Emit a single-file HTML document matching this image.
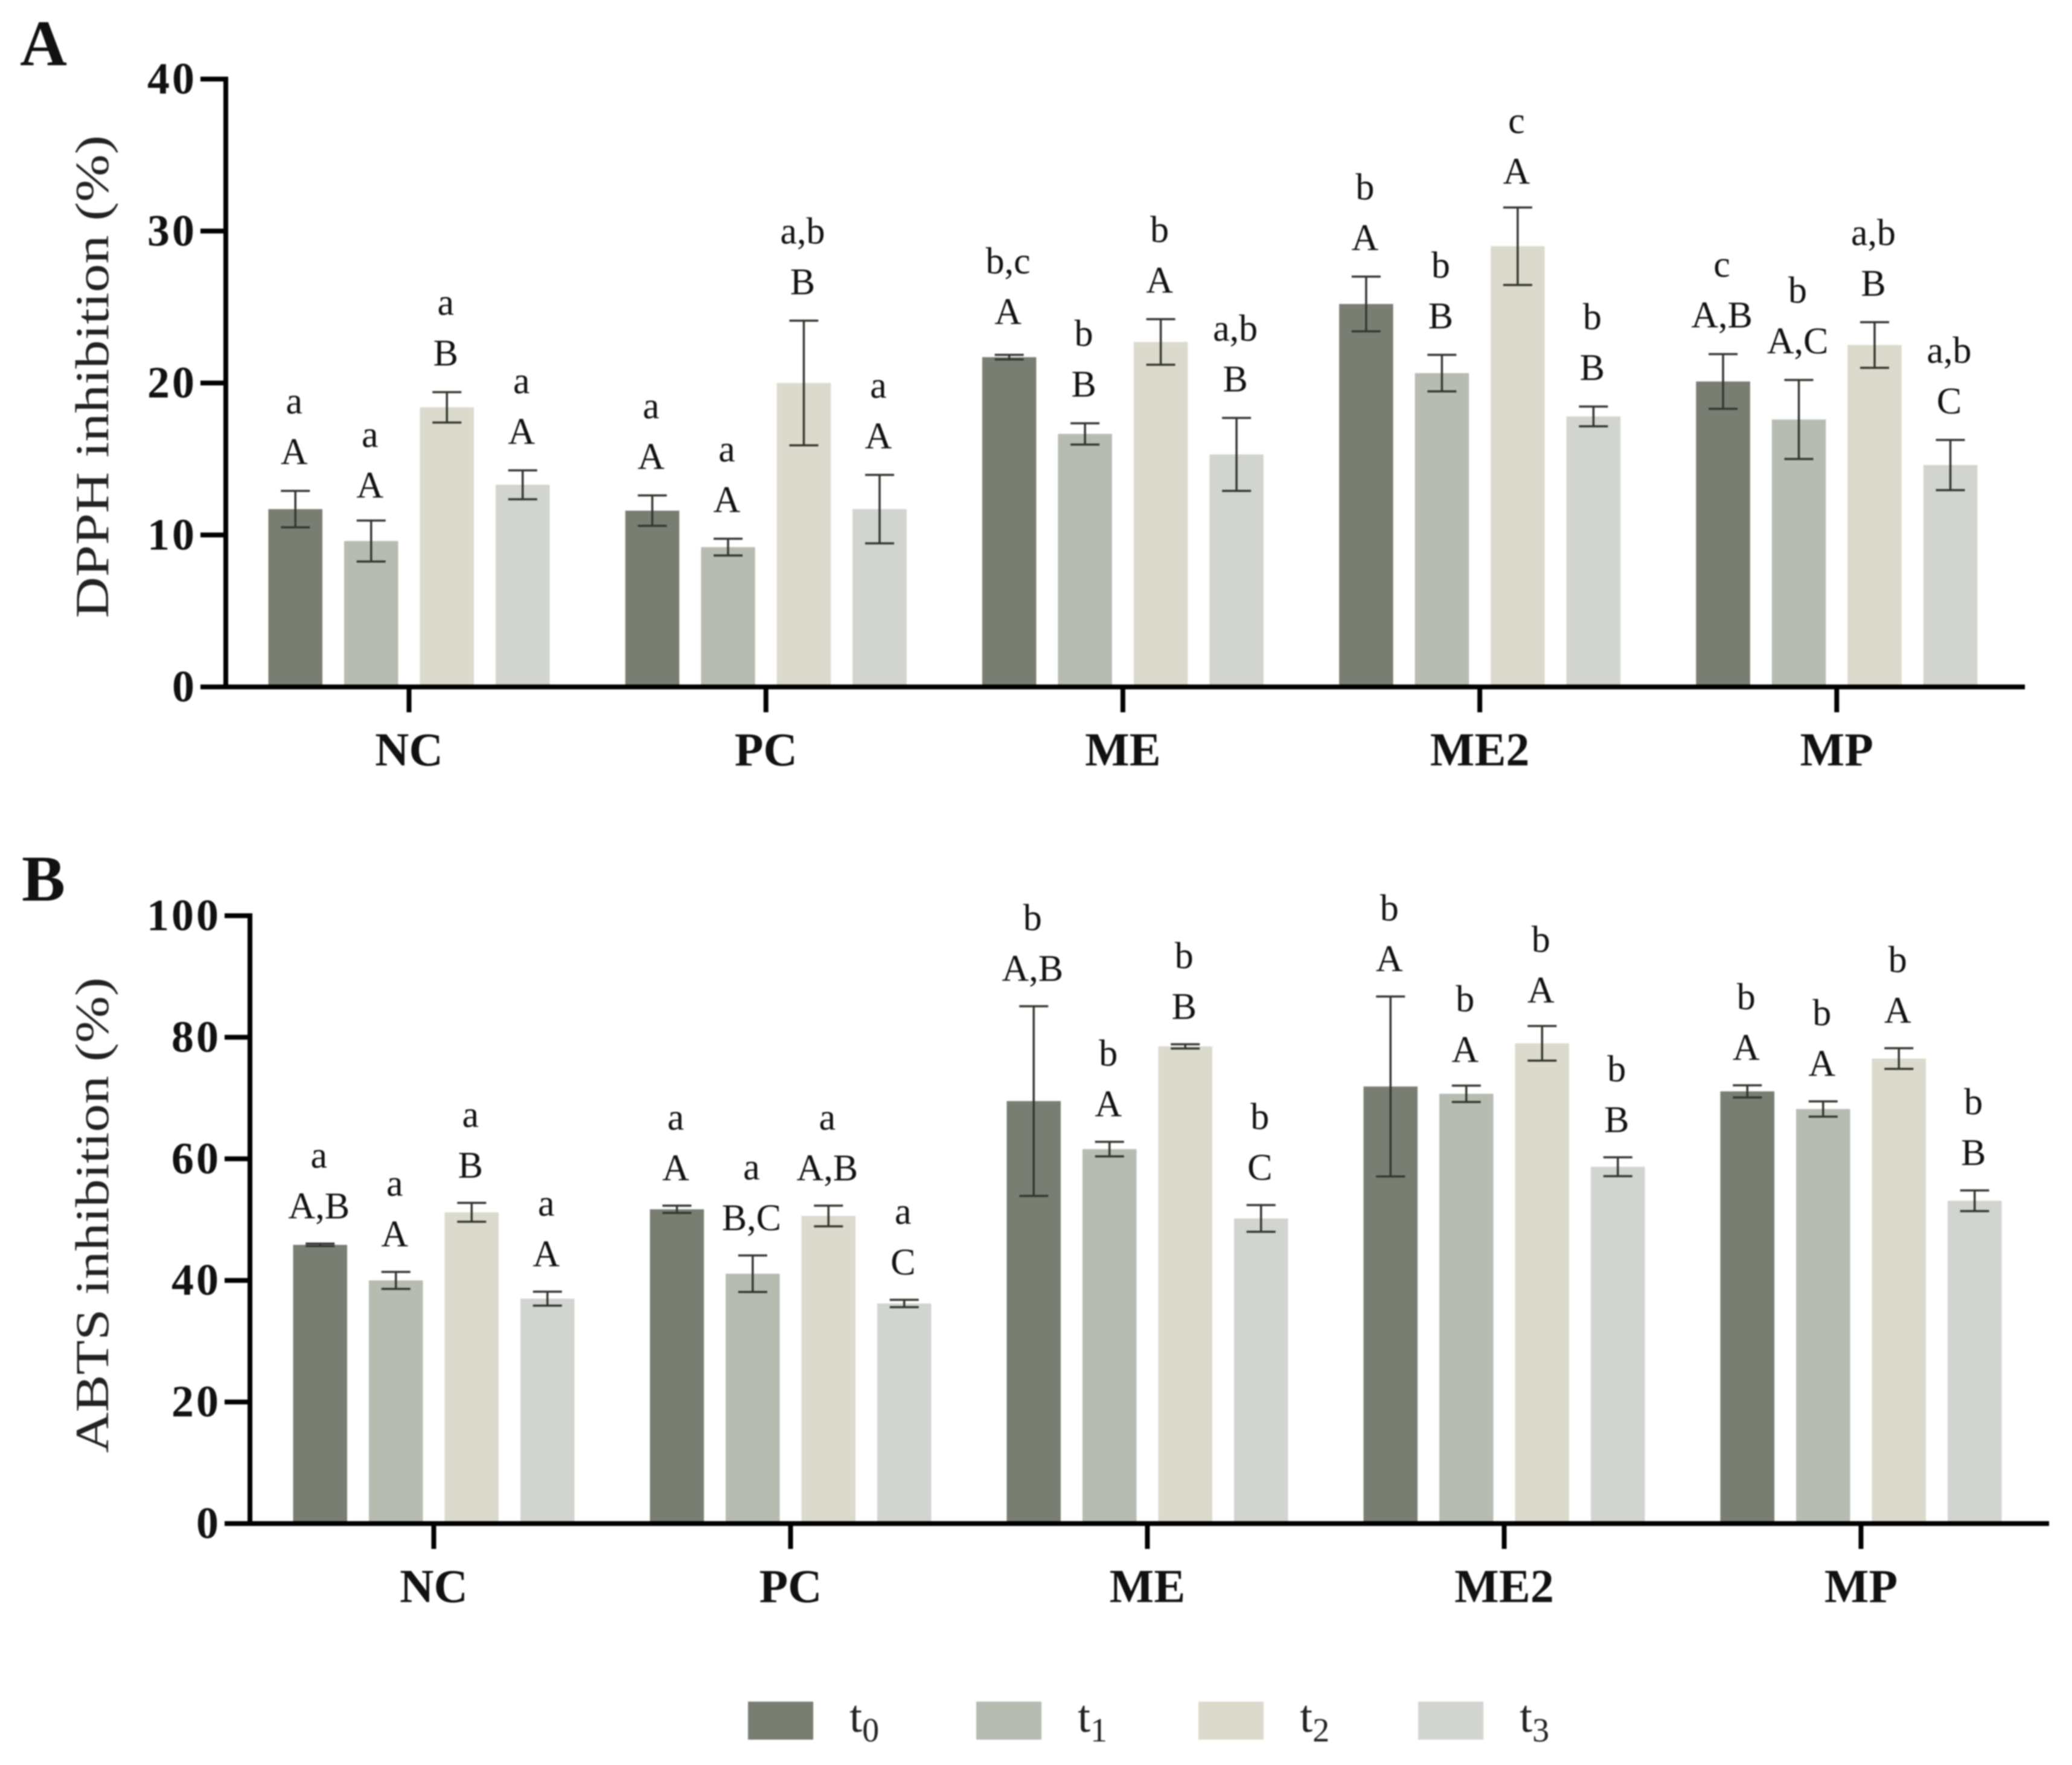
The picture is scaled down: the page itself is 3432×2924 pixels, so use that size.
<!DOCTYPE html>
<html lang="en">
<head>
<meta charset="utf-8">
<title>DPPH and ABTS inhibition</title>
<style>
html,body{margin:0;padding:0;background:#fff;width:3432px;height:2924px;overflow:hidden}
svg{display:block;filter:blur(1px)}
text{font-family:"Liberation Serif",serif;fill:#111}
</style>
</head>
<body>
<svg id="figure" xmlns="http://www.w3.org/2000/svg" width="3432" height="2924" viewBox="0 0 3432 2924"></svg>
<script>
const categories = ['NC','PC','ME','ME2','MP'];
const seriesNames = ['t0','t1','t2','t3'];
const seriesColors = ['#797e72','#b6bcb1','#dbdacc','#d1d4cf'];

const dpphTicks = [0,10,20,30,40];
const dpphT0 = [11.7,11.6,21.7,25.2,20.1];
const dpphT1 = [9.6,9.2,16.65,20.65,17.6];
const dpphT2 = [18.4,20.0,22.7,29.0,22.5];
const dpphT3 = [13.3,11.7,15.3,17.8,14.6];
const dpphErrT0 = [1.2,1.0,0.15,1.8,1.8];
const dpphErrT1 = [1.35,0.55,0.7,1.2,2.6];
const dpphErrT2 = [1.0,4.1,1.5,2.55,1.5];
const dpphErrT3 = [0.95,2.25,2.4,0.65,1.65];
const dpphCapsT0 = ['A','A','A','A','A,B'];
const dpphCapsT1 = ['A','A','B','B','A,C'];
const dpphCapsT2 = ['B','B','A','A','B'];
const dpphCapsT3 = ['A','A','B','B','C'];
const dpphSigT0 = ['a','a','b,c','b','c'];
const dpphSigT1 = ['a','a','b','b','b'];
const dpphSigT2 = ['a','a,b','b','c','a,b'];
const dpphSigT3 = ['a','a','a,b','b','a,b'];

const abtsTicks = [0,20,40,60,80,100];
const abtsT0 = [45.85,51.7,69.5,71.9,71.1];
const abtsT1 = [40.0,41.1,61.6,70.7,68.2];
const abtsT2 = [51.2,50.6,78.5,79.0,76.5];
const abtsT3 = [37.0,36.2,50.2,58.7,53.1];
const abtsErrT0 = [0.2,0.6,15.6,14.8,1.0];
const abtsErrT1 = [1.4,3.0,1.2,1.35,1.25];
const abtsErrT2 = [1.55,1.7,0.35,2.85,1.7];
const abtsErrT3 = [1.15,0.6,2.2,1.55,1.7];
const abtsCapsT0 = ['A,B','A','A,B','A','A'];
const abtsCapsT1 = ['A','B,C','A','A','A'];
const abtsCapsT2 = ['B','A,B','B','A','A'];
const abtsCapsT3 = ['A','C','C','B','B'];
const abtsSigT0 = ['a','a','b','b','b'];
const abtsSigT1 = ['a','a','b','b','b'];
const abtsSigT2 = ['a','a','b','b','b'];
const abtsSigT3 = ['a','a','b','b','b'];

const NS = 'http://www.w3.org/2000/svg';
const root = document.getElementById('figure');

function make(tag, name, attrs, parent, interact) {
  const el = document.createElementNS(NS, tag);
  
  
  for (const k in attrs) el.setAttribute(k, attrs[k]);
  (parent || root).appendChild(el);
  return el;
}
function label(name, str, attrs, parent) {
  const el = make('text', name, attrs, parent);
  el.textContent = str;
  return el;
}

function drawPanel(cfg) {
  const g = make('g', cfg.id + '-chart', {});
  const yScale = v => cfg.y0 - (v / cfg.yMax) * (cfg.y0 - cfg.yTop);
  const groupLeft = i => cfg.firstBar + i * cfg.groupStep;
  const barLeft = (i, s) => groupLeft(i) + s * cfg.barStep;

  label(cfg.id + '-panel-letter', cfg.letter, {x: cfg.letterX, y: cfg.letterY, 'font-size': 108, 'font-weight': 700}, g);

  const titleEl = label(cfg.id + '-y-axis-title', cfg.title, {
    x: 0, y: 0, 'font-size': 78, 'text-anchor': 'middle',
    textLength: cfg.titleLen, lengthAdjust: 'spacingAndGlyphs',
    transform: 'translate(179,' + cfg.titleY + ') rotate(-90)'
  }, g);
  titleEl.style.fill = '#222';

  cfg.series.forEach((vals, s) => {
    vals.forEach((v, i) => {
      make('rect', cfg.id + '-bar-' + categories[i].toLowerCase() + '-' + seriesNames[s], {
        x: barLeft(i, s), y: yScale(v), width: cfg.barW, height: cfg.y0 - yScale(v),
        fill: seriesColors[s]
      }, g);
    });
  });

  cfg.series.forEach((vals, s) => {
    vals.forEach((v, i) => {
      const cx = barLeft(i, s) + cfg.barW / 2;
      const e = cfg.errs[s][i];
      const top = yScale(v + e), bot = yScale(v - e);
      const d = 'M' + (cx - 24) + ' ' + top + 'H' + (cx + 24) + 'M' + cx + ' ' + top + 'V' + bot + 'M' + (cx - 24) + ' ' + bot + 'H' + (cx + 24);
      make('path', cfg.id + '-error-bar-' + categories[i].toLowerCase() + '-' + seriesNames[s], {
        d: d, stroke: '#33362f', 'stroke-width': 3.5, fill: 'none'
      }, g);
      const shift = cfg.labelShift[categories[i] + seriesNames[s]] || 0;
      const capY = top - cfg.capGap + shift;
      label(cfg.id + '-group-letter-' + categories[i].toLowerCase() + '-' + seriesNames[s], cfg.caps[s][i], {
        x: cx - 2, y: capY, 'font-size': 62, 'text-anchor': 'middle'
      }, g);
      label(cfg.id + '-sig-letter-' + categories[i].toLowerCase() + '-' + seriesNames[s], cfg.sig[s][i], {
        x: cx - 2, y: capY - 84, 'font-size': 62, 'text-anchor': 'middle'
      }, g);
    });
  });

  make('line', cfg.id + '-y-axis', {x1: cfg.axisX, x2: cfg.axisX, y1: cfg.yTop - 4, y2: cfg.y0 + 4, stroke: '#000', 'stroke-width': 8}, g);
  make('line', cfg.id + '-x-axis', {x1: cfg.axisX - 42, x2: cfg.xEnd, y1: cfg.y0, y2: cfg.y0, stroke: '#000', 'stroke-width': 8}, g);

  cfg.ticks.forEach(t => {
    const y = yScale(t);
    make('line', cfg.id + '-y-tick-' + t, {x1: cfg.axisX - 42, x2: cfg.axisX, y1: y, y2: y, stroke: '#000', 'stroke-width': 8}, g);
    label(cfg.id + '-y-tick-label-' + t, String(t), {
      x: cfg.axisX - 48, y: y + 24, 'font-size': 74, 'font-weight': 700, 'text-anchor': 'end', 'letter-spacing': 4
    }, g);
  });

  categories.forEach((c, i) => {
    const cx = groupLeft(i) + (3 * cfg.barStep + cfg.barW) / 2;
    make('line', cfg.id + '-x-tick-' + c.toLowerCase(), {x1: cx, x2: cx, y1: cfg.y0, y2: cfg.y0 + 42, stroke: '#000', 'stroke-width': 8}, g);
    label(cfg.id + '-x-label-' + c.toLowerCase(), c, {
      x: cx, y: cfg.y0 + 130, 'font-size': 78, 'font-weight': 700, 'text-anchor': 'middle'
    }, g);
  });
}

drawPanel({
  id: 'dpph', letter: 'A', letterX: 33, letterY: 108,
  title: 'DPPH inhibition (%)', titleY: 624, titleLen: 800,
  axisX: 374, xEnd: 3354, y0: 1138, yTop: 131, yMax: 40,
  firstBar: 444.5, groupStep: 591.2, barStep: 125.5, barW: 89.5,
  capGap: 44, labelShift: {NCt1: 6, ME2t2: 5, MEt0: -7},
  ticks: dpphTicks,
  series: [dpphT0, dpphT1, dpphT2, dpphT3],
  errs: [dpphErrT0, dpphErrT1, dpphErrT2, dpphErrT3],
  caps: [dpphCapsT0, dpphCapsT1, dpphCapsT2, dpphCapsT3],
  sig: [dpphSigT0, dpphSigT1, dpphSigT2, dpphSigT3]
});

drawPanel({
  id: 'abts', letter: 'B', letterX: 36, letterY: 1492,
  title: 'ABTS inhibition (%)', titleY: 2013, titleLen: 788,
  axisX: 414, xEnd: 3394, y0: 2524, yTop: 1517, yMax: 100,
  firstBar: 485.5, groupStep: 591, barStep: 125.5, barW: 89.5,
  capGap: 42, labelShift: {ME2t1: 3, ME2t2: 3},
  ticks: abtsTicks,
  series: [abtsT0, abtsT1, abtsT2, abtsT3],
  errs: [abtsErrT0, abtsErrT1, abtsErrT2, abtsErrT3],
  caps: [abtsCapsT0, abtsCapsT1, abtsCapsT2, abtsCapsT3],
  sig: [abtsSigT0, abtsSigT1, abtsSigT2, abtsSigT3]
});

const legend = make('g', 'legend', {});
const legendSwatchX = [1239, 1617, 1985, 2349];
seriesNames.forEach((n, s) => {
  const entry = make('g', 'legend-entry-' + n, {}, legend);
  make('rect', 'legend-swatch-' + n, {x: legendSwatchX[s], y: 2819, width: 108, height: 63, fill: seriesColors[s]}, entry);
  const t = make('text', 'legend-label-' + n, {x: legendSwatchX[s] + 168, y: 2869, 'font-size': 76}, entry);
  t.style.fill = '#222';
  t.appendChild(document.createTextNode('t'));
  const sub = make('tspan', 'legend-subscript-' + n, {dy: 16, 'font-size': 56}, t);
  sub.textContent = n.slice(1);
});
</script>
</body>
</html>
